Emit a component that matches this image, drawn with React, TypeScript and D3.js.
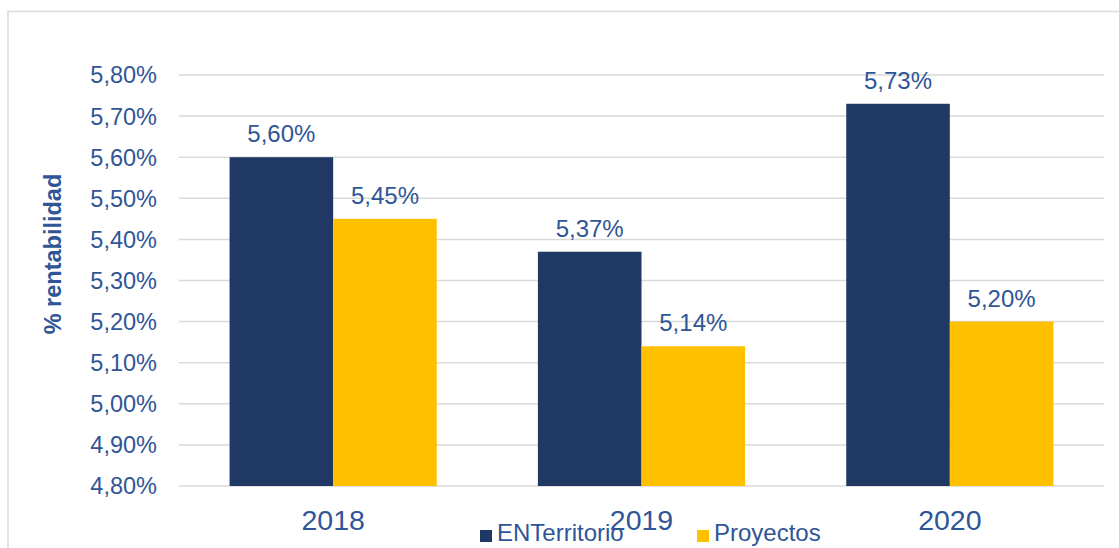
import * as d3 from "d3";

const years = ["2018", "2019", "2020"];
const series = ["ENTerritorio", "Proyectos"];
const enterritorio = [5.6, 5.37, 5.73];
const proyectos = [5.45, 5.14, 5.2];
const yTicks = [4.8, 4.9, 5.0, 5.1, 5.2, 5.3, 5.4, 5.5, 5.6, 5.7, 5.8];

const COLORS = ["#203864", "#FFC000"];
const TEXT = "#2F5597";
const GRID = "#D9D9D9";
const FONT = "Liberation Sans, Arial, sans-serif";

const fmt = (v: number) => v.toFixed(2).replace(".", ",") + "%";

export default function App() {
  const width = 1119;
  const height = 548;
  const plot = { left: 179, right: 1104, top: 75, bottom: 486 };

  const y = d3.scaleLinear().domain([4.8, 5.8]).range([plot.bottom, plot.top]);
  const x = d3
    .scaleBand<string>()
    .domain(years)
    .range([plot.left, plot.right])
    .paddingInner(0.328)
    .paddingOuter(0.164);
  const xs = d3.scaleBand<string>().domain(series).range([0, x.bandwidth()]);
  const color = d3.scaleOrdinal<string, string>().domain(series).range(COLORS);

  const rows = years.flatMap((yr, i) => [
    { year: yr, key: series[0], value: enterritorio[i] },
    { year: yr, key: series[1], value: proyectos[i] },
  ]);

  const legend = [
    { key: series[0], x: 480 },
    { key: series[1], x: 697 },
  ];

  return (
    <svg
      width={width}
      height={height}
      style={{ position: "absolute", left: 0, top: 0, background: "#fff" }}
      fontFamily={FONT}
    >
      <rect x={8} y={11.5} width={1130} height={560} fill="#fff" stroke={GRID} strokeWidth={1.5} />

      {/* gridlines */}
      <g stroke={GRID} strokeWidth={1.5}>
        {yTicks.map((t) => (
          <line key={t} x1={plot.left} x2={plot.right} y1={y(t)} y2={y(t)} />
        ))}
      </g>

      {/* y tick labels */}
      <g fill={TEXT} fontSize={23.5} textAnchor="end">
        {yTicks.map((t) => (
          <text key={t} x={157} y={y(t)} dy="0.36em">
            {fmt(t)}
          </text>
        ))}
      </g>

      <text
        transform="translate(61,254) rotate(-90)"
        textAnchor="middle"
        fill={TEXT}
        fontSize={23.5}
        fontWeight="bold"
      >
        % rentabilidad
      </text>

      {/* bars */}
      <g>
        {rows.map((d) => (
          <rect
            key={d.year + d.key}
            x={(x(d.year) ?? 0) + (xs(d.key) ?? 0)}
            y={y(d.value)}
            width={xs.bandwidth()}
            height={y(4.8) - y(d.value)}
            fill={color(d.key)}
          />
        ))}
      </g>

      {/* data labels */}
      <g fill={TEXT} fontSize={24} textAnchor="middle">
        {rows.map((d) => (
          <text
            key={d.year + d.key}
            x={(x(d.year) ?? 0) + (xs(d.key) ?? 0) + xs.bandwidth() / 2}
            y={y(d.value) - 15}
          >
            {fmt(d.value)}
          </text>
        ))}
      </g>

      {/* x labels */}
      <g fill={TEXT} fontSize={28.5} textAnchor="middle">
        {years.map((yr) => (
          <text key={yr} x={(x(yr) ?? 0) + x.bandwidth() / 2} y={530}>
            {yr}
          </text>
        ))}
      </g>

      {/* legend */}
      <g fontSize={24} fill={TEXT}>
        {legend.map((l) => (
          <g key={l.key}>
            <rect x={l.x} y={530} width={12} height={12} fill={color(l.key)} />
            <text x={l.x + 17} y={541}>
              {l.key}
            </text>
          </g>
        ))}
      </g>
    </svg>
  );
}
